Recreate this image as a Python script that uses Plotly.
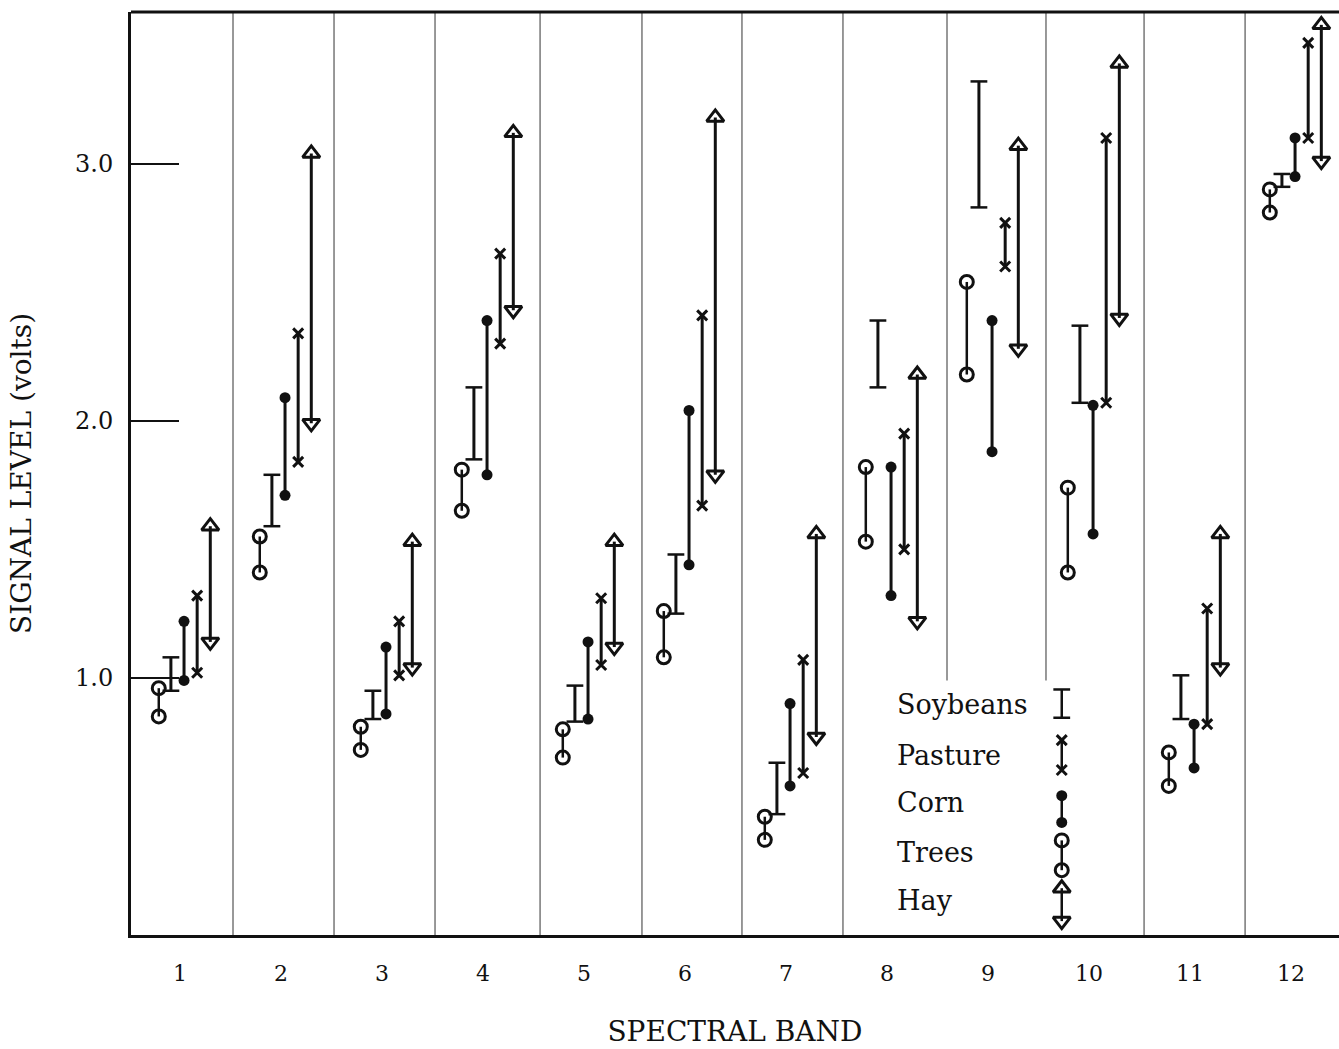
import plotly.graph_objects as go

# ---------------- data (volts) ----------------
bands = list(range(1, 13))
band_labels = [str(b) for b in bands]
band_edges = [1.525, 2.525, 3.525, 4.565, 5.574, 6.564, 7.564, 8.594, 9.574, 10.545, 11.545]

soy_lo = [0.95, 1.59, 0.84, 1.85, 0.83, 1.25, 0.47, 2.13, 2.83, 2.07, 0.84, 2.91]
soy_hi = [1.08, 1.79, 0.95, 2.13, 0.97, 1.48, 0.67, 2.39, 3.32, 2.37, 1.01, 2.96]

pas_lo = [1.02, 1.84, 1.01, 2.30, 1.05, 1.67, 0.63, 1.50, 2.60, 2.07, 0.82, 3.10]
pas_hi = [1.32, 2.34, 1.22, 2.65, 1.31, 2.41, 1.07, 1.95, 2.77, 3.10, 1.27, 3.47]

corn_lo = [0.99, 1.71, 0.86, 1.79, 0.84, 1.44, 0.58, 1.32, 1.88, 1.56, 0.65, 2.95]
corn_hi = [1.22, 2.09, 1.12, 2.39, 1.14, 2.04, 0.90, 1.82, 2.39, 2.06, 0.82, 3.10]

tree_lo = [0.85, 1.41, 0.72, 1.65, 0.69, 1.08, 0.37, 1.53, 2.18, 1.41, 0.58, 2.81]
tree_hi = [0.96, 1.55, 0.81, 1.81, 0.80, 1.26, 0.46, 1.82, 2.54, 1.74, 0.71, 2.90]

hay_lo = [1.14, 1.99, 1.04, 2.43, 1.12, 1.79, 0.77, 1.22, 2.28, 2.40, 1.04, 3.01]
hay_hi = [1.59, 3.04, 1.53, 3.12, 1.53, 3.18, 1.56, 2.18, 3.07, 3.39, 1.56, 3.54]

y_ticks = [1.0, 2.0, 3.0]
y_tick_text = ["1.0", "2.0", "3.0"]

# ---------------- styling ----------------
FONT = "DejaVu Serif"
INK = "#111111"
offsets = {"Trees": -0.21, "Soybeans": -0.09, "Corn": 0.04, "Pasture": 0.17, "Hay": 0.30}

fig = go.Figure()

# band separators
for e in band_edges:
    fig.add_shape(type="line", xref="x", yref="paper", x0=e, x1=e,
                  y0=0, y1=1, layer="below", line=dict(color="#333333", width=1))

# legend area blank box (drawn over separators, below traces)
fig.add_shape(type="rect", xref="x", yref="y", layer="below", line=dict(width=0),
              fillcolor="white", x0=7.98, x1=9.91, y0=0.0, y1=0.99)


def add_range(name, lo, hi, top_marker, bot_marker, line_w=3):
    xs = [b + offsets[name] for b in bands]
    lx, ly = [], []
    for x, a, b in zip(xs, lo, hi):
        lx += [x, x, None]
        ly += [a, b, None]
    fig.add_trace(go.Scatter(x=lx, y=ly, mode="lines", line=dict(color=INK, width=line_w),
                             hoverinfo="skip", showlegend=False))
    fig.add_trace(go.Scatter(x=xs, y=hi, mode="markers", marker=top_marker,
                             name=name, showlegend=False))
    fig.add_trace(go.Scatter(x=xs, y=lo, mode="markers", marker=bot_marker,
                             name=name, showlegend=False))


soy_m = dict(symbol="line-ew", size=12, color=INK, line=dict(color=INK, width=2.5))
pas_m = dict(symbol="x-thin", size=10, color=INK, line=dict(color=INK, width=3))
corn_m = dict(symbol="circle", size=11, color=INK, line=dict(color=INK, width=0))
tree_m = dict(symbol="circle-open", size=13, color=INK, line=dict(color=INK, width=3))
hay_up = dict(symbol="triangle-up-open", size=15, color=INK, line=dict(color=INK, width=3))
hay_dn = dict(symbol="triangle-down-open", size=15, color=INK, line=dict(color=INK, width=3))

add_range("Trees", tree_lo, tree_hi, tree_m, tree_m, 2.5)
add_range("Soybeans", soy_lo, soy_hi, soy_m, soy_m, 3)
add_range("Corn", corn_lo, corn_hi, corn_m, corn_m, 3)
add_range("Pasture", pas_lo, pas_hi, pas_m, pas_m, 3)
add_range("Hay", hay_lo, hay_hi, hay_up, hay_dn, 3)

# top border
fig.add_shape(type="line", xref="paper", yref="paper", x0=0, x1=1, y0=1, y1=1,
              line=dict(color=INK, width=3))

# ---------------- legend (drawn inside plot) ----------------
leg_names = ["Soybeans", "Pasture", "Corn", "Trees", "Hay"]
leg_marks = [(soy_m, soy_m), (pas_m, pas_m), (corn_m, corn_m), (tree_m, tree_m), (hay_up, hay_dn)]
leg_text_x = 8.08
leg_sym_x = 9.73
leg_text_y = [0.895, 0.70, 0.514, 0.319, 0.136]
leg_sym_y = [0.90, 0.70, 0.49, 0.31, 0.118]
leg_half = [0.055, 0.058, 0.052, 0.058, 0.064]
for nm, (tm, bm), ty, sy, h in zip(leg_names, leg_marks, leg_text_y, leg_sym_y, leg_half):
    fig.add_annotation(x=leg_text_x, y=ty, xref="x", yref="y", text=nm, showarrow=False,
                       xanchor="left", yanchor="middle", font=dict(family=FONT, size=27, color=INK))
    fig.add_trace(go.Scatter(x=[leg_sym_x, leg_sym_x], y=[sy - h, sy + h], mode="lines",
                             line=dict(color=INK, width=2.5), hoverinfo="skip", showlegend=False))
    fig.add_trace(go.Scatter(x=[leg_sym_x], y=[sy + h], mode="markers", marker=tm,
                             hoverinfo="skip", showlegend=False))
    fig.add_trace(go.Scatter(x=[leg_sym_x], y=[sy - h], mode="markers", marker=bm,
                             hoverinfo="skip", showlegend=False))

fig.update_layout(
    width=1339, height=1049,
    margin=dict(l=131, r=0, t=12, b=114),
    paper_bgcolor="white", plot_bgcolor="white",
    font=dict(family=FONT, size=22, color=INK),
    showlegend=False,
    xaxis=dict(range=[0.515, 12.475], tickmode="array", tickvals=bands, ticktext=band_labels,
               showgrid=False, zeroline=False, showline=True, linecolor=INK, linewidth=3,
               ticks="", ticklabelstandoff=17, tickfont=dict(family=FONT, size=22),
               title=dict(text="SPECTRAL BAND", standoff=36, font=dict(family=FONT, size=28))),
    yaxis=dict(range=[0, 3.59], tickmode="array", tickvals=y_ticks, ticktext=y_tick_text,
               showgrid=False, zeroline=False, showline=True, linecolor=INK, linewidth=3,
               ticks="inside", ticklen=48, tickwidth=2, tickcolor=INK,
               ticklabelstandoff=10, tickfont=dict(family=FONT, size=24),
               title=dict(text="SIGNAL LEVEL (volts)", standoff=36, font=dict(family=FONT, size=28))),
)

fig.write_html("out.html")
